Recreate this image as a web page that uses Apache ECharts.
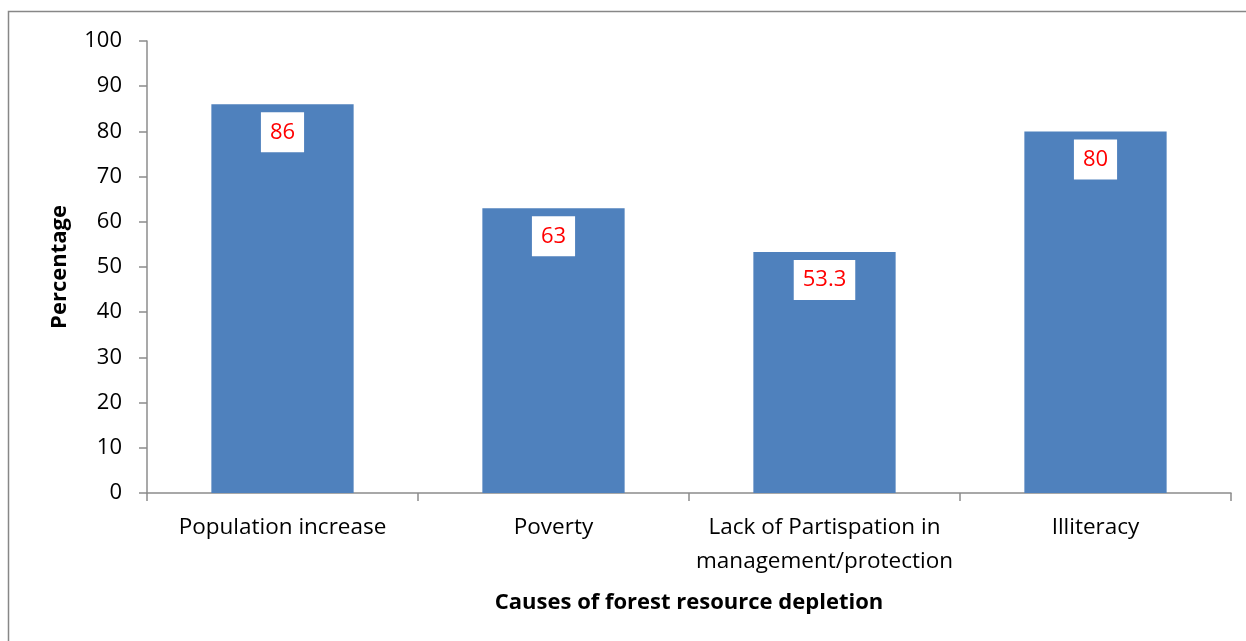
<!DOCTYPE html>
<html>
<head>
<meta charset="utf-8">
<script src="https://cdn.jsdelivr.net/npm/echarts@6/dist/echarts.min.js"></script>
<style>
    html, body { margin: 0; padding: 0; background: #fff; }
    #chart { width: 1246px; height: 641px; }
</style>
</head>
<body>
<div id="chart"></div>
<script>
var categories = ['Population increase', 'Poverty', 'Lack of Partispation in\nmanagement/protection', 'Illiteracy'];
var values = [86, 63, 53.3, 80];
var yTicks = { min: 0, max: 100, interval: 10 };

var myChart = echarts.init(document.getElementById('chart'));
var font = '"Open Sans", "Liberation Sans", sans-serif';
var axisColor = '#8c8c8c';

var option = {
    animation: false,
    textStyle: { fontFamily: font },
    graphic: [{
        type: 'rect',
        shape: { x: 8.5, y: 11.5, width: 1300, height: 700 },
        style: { fill: 'none', stroke: '#878787', lineWidth: 1.5 },
        silent: true
    }],
    grid: { left: 147, right: 15, top: 41, bottom: 148 },
    xAxis: {
        type: 'category',
        data: categories,
        name: 'Causes of forest resource depletion',
        nameLocation: 'middle',
        nameGap: 99,
        nameTextStyle: { fontSize: 22, fontWeight: 'bold', color: '#000', fontFamily: font },
        axisLine: { lineStyle: { color: axisColor, width: 1.5 } },
        axisTick: { show: true, length: 8, lineStyle: { color: axisColor, width: 1.5 } },
        axisLabel: { color: '#000', fontSize: 22.5, margin: 18, lineHeight: 34, interval: 0, fontFamily: font }
    },
    yAxis: {
        type: 'value',
        min: yTicks.min,
        max: yTicks.max,
        interval: yTicks.interval,
        name: 'Percentage',
        nameLocation: 'middle',
        nameGap: 76,
        nameTextStyle: { fontSize: 22, fontWeight: 'bold', color: '#000', fontFamily: font },
        splitLine: { show: false },
        axisLine: { show: true, lineStyle: { color: axisColor, width: 1.5 } },
        axisTick: { show: true, length: 8, lineStyle: { color: axisColor, width: 1.5 } },
        axisLabel: { color: '#000', fontSize: 22, margin: 25, fontFamily: font }
    },
    series: [{
        type: 'bar',
        data: values,
        barWidth: '52.5%',
        itemStyle: { color: '#4F81BD' },
        label: {
            show: true,
            position: 'insideTop',
            distance: 8,
            color: '#ff0000',
            fontSize: 22,
            fontFamily: font,
            backgroundColor: '#fff',
            padding: [9, 9, 9, 9]
        }
    }]
};
myChart.setOption(option, true);
</script>
</body>
</html>
